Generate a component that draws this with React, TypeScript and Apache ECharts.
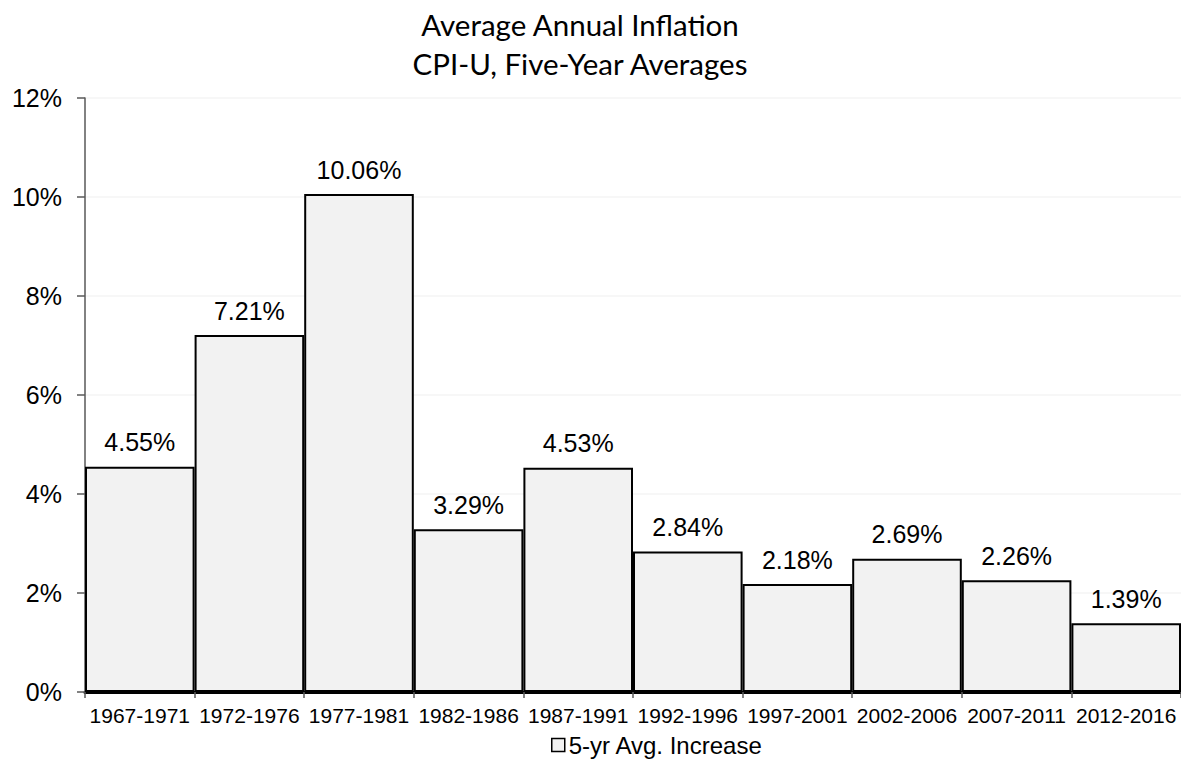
import React, { useEffect, useRef } from "react";
import * as echarts from "echarts";

const categories = [
  "1967-1971", "1972-1976", "1977-1981", "1982-1986", "1987-1991",
  "1992-1996", "1997-2001", "2002-2006", "2007-2011", "2012-2016",
];
const increaseValues = [4.55, 7.21, 10.06, 3.29, 4.53, 2.84, 2.18, 2.69, 2.26, 1.39];
const seriesName = "5-yr Avg. Increase";
const titleLines = ["Average Annual Inflation", "CPI-U, Five-Year Averages"];

export default function App() {
  const ref = useRef<HTMLDivElement>(null);
  useEffect(() => {
    if (!ref.current) return;
    const chart = echarts.init(ref.current, undefined, { renderer: "svg" });
    chart.setOption({
      animation: false,
      backgroundColor: "#ffffff",
      title: {
        text: titleLines.join("\n"),
        left: 580,
        textAlign: "center",
        top: 0,
        padding: [5, 0, 5, 0],
        textStyle: {
          fontFamily: "Lato",
          fontSize: 29.5,
          fontWeight: "normal",
          color: "#000000",
          lineHeight: 39,
        },
      },
      legend: {
        data: [seriesName],
        left: 546,
        top: 728,
        icon: "rect",
        itemWidth: 13,
        itemHeight: 13,
        itemGap: 4,
        textStyle: { fontFamily: "Liberation Sans", fontSize: 24, color: "#000", padding: [0, 0, 0, -1] },
        itemStyle: { color: "#f2f2f2", borderColor: "#000", borderWidth: 1.5 },
      },
      grid: { left: 85, right: 0, top: 98, bottom: 68, containLabel: false },
      xAxis: {
        type: "category",
        data: categories,
        axisLine: { lineStyle: { color: "#000", width: 3 } },
        axisTick: { show: true, length: 6, lineStyle: { color: "#595959", width: 1.5 } },
        axisLabel: {
          fontFamily: "Liberation Sans",
          fontSize: 21,
          color: "#000",
          margin: 13,
          interval: 0,
        },
      },
      yAxis: {
        type: "value",
        min: 0,
        max: 12,
        interval: 2,
        axisLine: { show: true, lineStyle: { color: "#595959", width: 1.5 } },
        axisTick: { show: true, length: 8, lineStyle: { color: "#595959", width: 1.5 } },
        axisLabel: {
          formatter: "{value}%",
          fontFamily: "Liberation Sans",
          fontSize: 25,
          color: "#000",
          margin: 23,
        },
        splitLine: { show: true, lineStyle: { color: "#f4f4f4", width: 1.5 } },
      },
      series: [
        {
          name: seriesName,
          type: "bar",
          data: increaseValues,
          barCategoryGap: "0%",
          itemStyle: { color: "#f2f2f2", borderColor: "#000", borderWidth: 2 },
          label: {
            show: true,
            position: "top",
            distance: 12,
            formatter: (p: any) => p.value.toFixed(2) + "%",
            fontFamily: "Liberation Sans",
            fontSize: 25,
            color: "#000",
          },
        },
      ],
    });
    return () => chart.dispose();
  }, []);
  return (
    <div
      ref={ref}
      style={{ position: "absolute", left: 0, top: 0, width: 1181, height: 760 }}
    />
  );
}
